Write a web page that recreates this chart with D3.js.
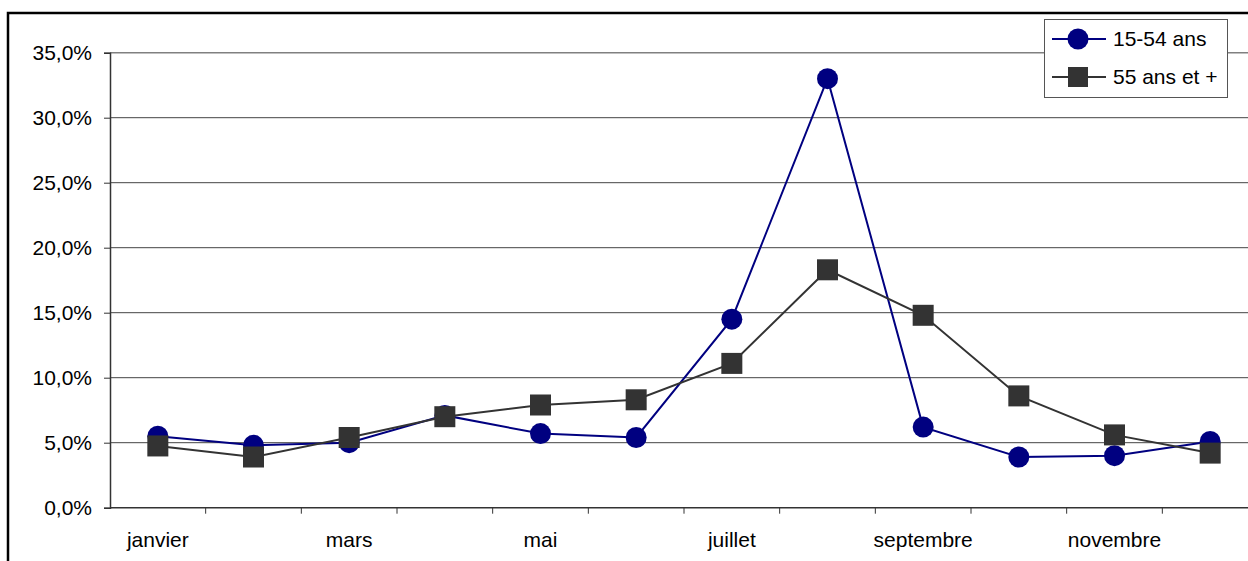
<!DOCTYPE html>
<html>
<head>
<meta charset="utf-8">
<script src="https://cdn.jsdelivr.net/npm/d3@7"></script>
<style>
  body { margin: 0; background: #fff; }
  svg { display: block; font-family: "Liberation Sans", Arial, sans-serif; }
</style>
</head>
<body>
<div id="chart"></div>
<script>
var months = ["janvier", "février", "mars", "avril", "mai", "juin", "juillet", "août", "septembre", "octobre", "novembre", "décembre"];
var shownLabels = ["janvier", "mars", "mai", "juillet", "septembre", "novembre"];
var young = [5.5, 4.8, 5.0, 7.1, 5.7, 5.4, 14.5, 33.0, 6.2, 3.9, 4.0, 5.1];
var senior = [4.75, 3.9, 5.4, 7.0, 7.9, 8.3, 11.1, 18.3, 14.8, 8.6, 5.6, 4.2];
var yTicks = [0, 5, 10, 15, 20, 25, 30, 35];
var seriesNames = ["15-54 ans", "55 ans et +"];

var W = 1248, H = 561;
var plotLeft = 110, plotRight = 1258, plotTop = 52.7, plotBottom = 507.7;
var fontSize = 21;

var svg = d3.select("#chart").append("svg")
    .attr("width", W).attr("height", H);

// outer chart border
svg.append("rect")
    .attr("x", 8).attr("y", 13)
    .attr("width", 1300).attr("height", 600)
    .attr("fill", "none").attr("stroke", "#000").attr("stroke-width", 2.5);

var x = d3.scaleBand().domain(months).range([plotLeft, plotRight]);
var y = d3.scaleLinear().domain([0, 35]).range([plotBottom, plotTop]);

// gridlines
svg.append("g").selectAll("line")
    .data(yTicks.filter(function(d) { return d > 0; }))
    .enter().append("line")
    .attr("x1", plotLeft).attr("x2", plotRight)
    .attr("y1", function(d) { return y(d); })
    .attr("y2", function(d) { return y(d); })
    .attr("stroke", function(d) { return d === 35 ? "#808080" : "#444"; })
    .attr("stroke-width", function(d) { return d === 35 ? 1.5 : 1; });

// y axis
var yAxis = d3.axisLeft(y).tickValues(yTicks).tickSize(6).tickPadding(12)
    .tickFormat(function(d) { return d.toFixed(1).replace(".", ",") + "%"; });
var gy = svg.append("g").attr("transform", "translate(" + plotLeft + ",0)").call(yAxis);
gy.select(".domain").attr("stroke", "#333").attr("stroke-width", 1.5);
gy.selectAll(".tick line").attr("stroke", "#333");
gy.selectAll(".tick text").attr("font-size", fontSize).attr("fill", "#000")
    .attr("font-family", "Liberation Sans, Arial, sans-serif");

// x axis (ticks between categories)
svg.append("line")
    .attr("x1", plotLeft).attr("x2", plotRight)
    .attr("y1", plotBottom).attr("y2", plotBottom)
    .attr("stroke", "#333").attr("stroke-width", 1.5);
svg.append("g").selectAll("line")
    .data(months.slice(1))
    .enter().append("line")
    .attr("x1", function(d) { return x(d); })
    .attr("x2", function(d) { return x(d); })
    .attr("y1", plotBottom).attr("y2", plotBottom + 6)
    .attr("stroke", "#333");
svg.append("g").selectAll("text")
    .data(shownLabels)
    .enter().append("text")
    .attr("x", function(d) { return x(d) + x.bandwidth() / 2; })
    .attr("y", plotBottom + 39)
    .attr("text-anchor", "middle")
    .attr("font-size", fontSize)
    .text(function(d) { return d; });

var line = d3.line()
    .x(function(d, i) { return x(months[i]) + x.bandwidth() / 2; })
    .y(function(d) { return y(d); });

// series 1
svg.append("path").datum(young)
    .attr("d", line).attr("fill", "none")
    .attr("stroke", "#000080").attr("stroke-width", 2);
svg.append("g").selectAll("circle")
    .data(young).enter().append("circle")
    .attr("cx", function(d, i) { return x(months[i]) + x.bandwidth() / 2; })
    .attr("cy", function(d) { return y(d); })
    .attr("r", 10.5)
    .attr("fill", "#000080");

// series 2
svg.append("path").datum(senior)
    .attr("d", line).attr("fill", "none")
    .attr("stroke", "#333333").attr("stroke-width", 2);
svg.append("g").selectAll("rect")
    .data(senior).enter().append("rect")
    .attr("x", function(d, i) { return x(months[i]) + x.bandwidth() / 2 - 10.5; })
    .attr("y", function(d) { return y(d) - 10.5; })
    .attr("width", 21).attr("height", 21)
    .attr("fill", "#333333");

// legend
var lg = svg.append("g");
lg.append("rect")
    .attr("x", 1044.5).attr("y", 19.5)
    .attr("width", 183).attr("height", 78)
    .attr("fill", "#fff").attr("stroke", "#555").attr("stroke-width", 1);
var items = lg.selectAll("g.item").data(seriesNames).enter().append("g")
    .attr("transform", function(d, i) { return "translate(0," + (39 + i * 38) + ")"; });
items.append("line")
    .attr("x1", 1052).attr("x2", 1106).attr("y1", 0).attr("y2", 0)
    .attr("stroke", function(d, i) { return i === 0 ? "#000080" : "#333333"; })
    .attr("stroke-width", 2);
items.each(function(d, i) {
  var g = d3.select(this);
  if (i === 0) {
    g.append("circle").attr("cx", 1078).attr("cy", 0).attr("r", 10.5).attr("fill", "#000080");
  } else {
    g.append("rect").attr("x", 1068).attr("y", -10).attr("width", 20).attr("height", 20).attr("fill", "#333333");
  }
});
items.append("text")
    .attr("x", 1113).attr("y", 7)
    .attr("font-size", fontSize)
    .text(function(d) { return d; });
</script>
</body>
</html>
